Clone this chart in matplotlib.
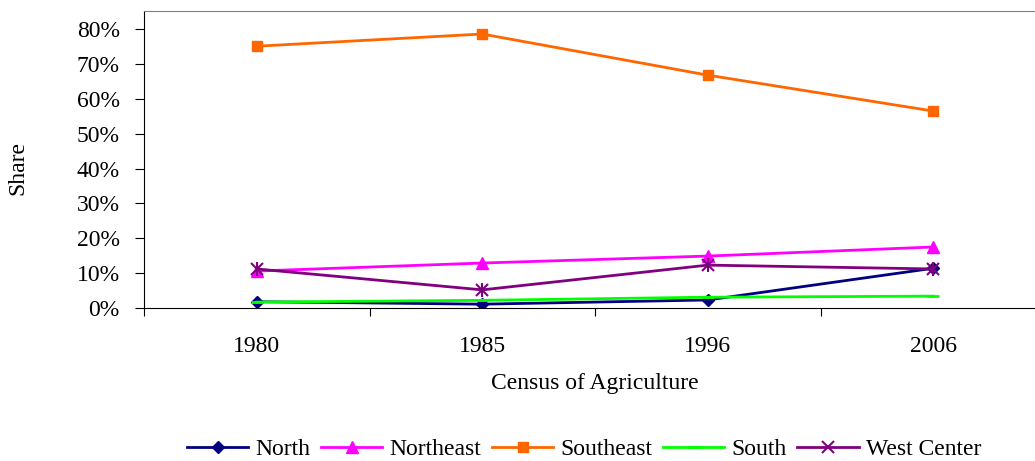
# Share by region, Census of Agriculture
import matplotlib.pyplot as plt
from matplotlib.ticker import PercentFormatter

years = ["1980", "1985", "1996", "2006"]

north = [1.8, 1.1, 2.3, 11.4]
northeast = [10.6, 12.9, 14.9, 17.5]
southeast = [75.1, 78.6, 66.8, 56.5]
south = [1.7, 2.2, 3.1, 3.4]
west_center = [11.2, 5.2, 12.3, 11.2]

plt.rcParams['font.family'] = ['Liberation Serif', 'DejaVu Serif']
fs = 17

fig = plt.figure(figsize=(10.35, 4.61), dpi=100)
# plot area runs off the right edge of the picture, like the original
ax = fig.add_axes([144 / 1035, 1 - 308 / 461, 902 / 1035, 297 / 461])

x = range(len(years))
ax.plot(x, north, color="#000080", lw=2, marker="D", ms=6, label="North")
ax.plot(x, northeast, color="#FF00FF", lw=2, marker="^", ms=8, label="Northeast")
ax.plot(x, southeast, color="#FF6600", lw=2, marker="s", ms=7, label="Southeast")
ax.plot(x, south, color="#00FF00", lw=2, marker="_", ms=8, mew=2, label="South")
ax.plot(x, west_center, color="#800080", lw=2, marker="x", ms=9, mew=1.5, label="West Center")
# the star marker: add the vertical stroke
ax.plot(x, west_center, color="#800080", lw=0, marker="|", ms=10, mew=1.5)

ax.set_xlim(-0.5, len(years) - 0.5)
ax.set_ylim(0, 85.2)
ax.set_xticks([i - 0.5 for i in range(len(years) + 1)])
ax.set_xticklabels([])
ax.set_xticks(list(x), minor=True)
ax.set_xticklabels(years, minor=True)
ax.tick_params(axis="x", which="minor", length=0, pad=20, labelsize=fs)
ax.tick_params(axis="x", which="major", length=6, direction="out")
ax.set_yticks(range(0, 81, 10))
ax.yaxis.set_major_formatter(PercentFormatter(decimals=0))
ax.tick_params(axis="y", length=6.5, direction="out", labelsize=fs, pad=11)

ax.spines["top"].set_color("#808080")
ax.spines["right"].set_visible(False)

ax.set_xlabel("Census of Agriculture", fontsize=fs, labelpad=12)
fig.text(18 / 1035, 1 - 168 / 461, "Share", rotation=90, fontsize=fs,
         ha="center", va="center")

handles, labels = ax.get_legend_handles_labels()
fig.legend(handles, labels, loc="center", bbox_to_anchor=(584 / 1035, 1 - 449 / 461),
           ncol=5, frameon=False, fontsize=fs, handlelength=2.6,
           columnspacing=0.45, handletextpad=0.3)

plt.savefig("out.png", dpi=100)
